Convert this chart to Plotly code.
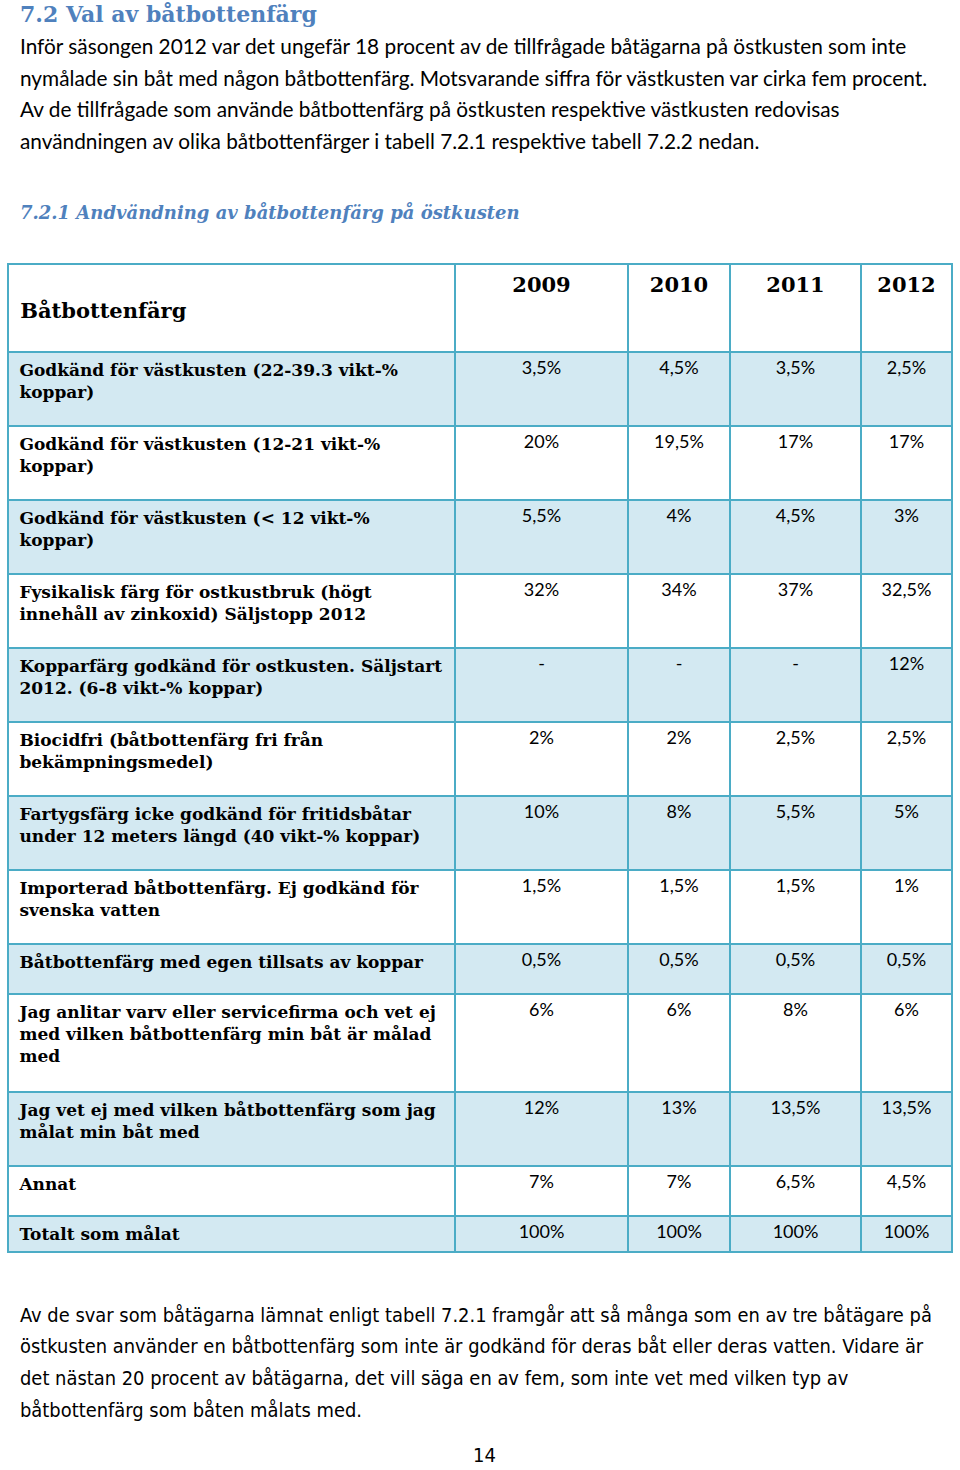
import plotly.graph_objects as go

W, H = 960, 1470

# ---------------- data ----------------
title = "7.2 Val av båtbottenfärg"
intro_lines = [
    "Inför säsongen 2012 var det ungefär 18 procent av de tillfrågade båtägarna på östkusten som inte",
    "nymålade sin båt med någon båtbottenfärg. Motsvarande siffra för västkusten var cirka fem procent.",
    "Av de tillfrågade som använde båtbottenfärg på östkusten respektive västkusten redovisas",
    "användningen av olika båtbottenfärger i tabell 7.2.1 respektive tabell 7.2.2 nedan.",
]
subtitle = "7.2.1 Andvändning av båtbottenfärg på östkusten"
header_label = "Båtbottenfärg"
years = ["2009", "2010", "2011", "2012"]
categories = [
    ["Godkänd för västkusten (22-39.3 vikt-%", "koppar)"],
    ["Godkänd för västkusten (12-21 vikt-%", "koppar)"],
    ["Godkänd för västkusten (< 12 vikt-%", "koppar)"],
    ["Fysikalisk färg för ostkustbruk (högt", "innehåll av zinkoxid) Säljstopp 2012"],
    ["Kopparfärg godkänd för ostkusten. Säljstart", "2012. (6-8 vikt-% koppar)"],
    ["Biocidfri (båtbottenfärg fri från", "bekämpningsmedel)"],
    ["Fartygsfärg icke godkänd för fritidsbåtar", "under 12 meters längd (40 vikt-% koppar)"],
    ["Importerad båtbottenfärg. Ej godkänd för", "svenska vatten"],
    ["Båtbottenfärg med egen tillsats av koppar"],
    ["Jag anlitar varv eller servicefirma och vet ej", "med vilken båtbottenfärg min båt är målad", "med"],
    ["Jag vet ej med vilken båtbottenfärg som jag", "målat min båt med"],
    ["Annat"],
    ["Totalt som målat"],
]
v2009 = ["3,5%", "20%", "5,5%", "32%", "-", "2%", "10%", "1,5%", "0,5%", "6%", "12%", "7%", "100%"]
v2010 = ["4,5%", "19,5%", "4%", "34%", "-", "2%", "8%", "1,5%", "0,5%", "6%", "13%", "7%", "100%"]
v2011 = ["3,5%", "17%", "4,5%", "37%", "-", "2,5%", "5,5%", "1,5%", "0,5%", "8%", "13,5%", "6,5%", "100%"]
v2012 = ["2,5%", "17%", "3%", "32,5%", "12%", "2,5%", "5%", "1%", "0,5%", "6%", "13,5%", "4,5%", "100%"]
outro_lines = [
    "Av de svar som båtägarna lämnat enligt tabell 7.2.1 framgår att så många som en av tre båtägare på",
    "östkusten använder en båtbottenfärg som inte är godkänd för deras båt eller deras vatten. Vidare är",
    "det nästan 20 procent av båtägarna, det vill säga en av fem, som inte vet med vilken typ av",
    "båtbottenfärg som båten målats med.",
]
page_number = "14"

# ---------------- layout / style ----------------
BLUE_TXT = "#4F81BD"
BORDER = "#4BACC6"
FILL_A = "#D3E9F2"
FILL_B = "#FFFFFF"
SERIF = "DejaVu Serif"
SANS = "Lato"
NARROW = "Liberation Sans Narrow, DejaVu Sans Condensed, sans-serif"

TABLE_LEFT, TABLE_RIGHT = 8, 952
TABLE_TOP = 264
HEADER_H = 88
COLW = [447, 173, 102, 131, 91]
# row heights grow with number of text lines, last row is compact
ROW_H = [26 + 24 * len(c) for c in categories]
ROW_H[-1] = 30
INDENT = "\u2009"


def py(px):
    return 1 - px / H


fig = go.Figure()

label_cells = ["<br>".join(INDENT + "<b>%s</b>" % s for s in c) for c in categories]
cols_all = [label_cells, v2009, v2010, v2011, v2012]
row_fill = [FILL_A if i % 2 == 0 else FILL_B for i in range(len(categories))]

# group consecutive rows of equal height into one table trace each
groups = []
start = 0
for i in range(1, len(categories) + 1):
    if i == len(categories) or ROW_H[i] != ROW_H[start]:
        groups.append((start, i))
        start = i

y_cursor = TABLE_TOP
for gi, (a, b) in enumerate(groups):
    first = gi == 0
    if first:
        header = dict(
            values=["\u00a0<br>" + INDENT + "<b>%s</b>" % header_label] + ["<b>%s</b>" % y for y in years],
            height=HEADER_H,
            align=["left", "center", "center", "center", "center"],
            fill=dict(color="white"),
            line=dict(color=BORDER, width=2),
            font=dict(family=SERIF, size=21, color="black"),
        )
        top = y_cursor
        y_cursor += HEADER_H
    else:
        header = dict(
            values=["", "", "", "", ""],
            height=0,
            fill=dict(color="rgba(0,0,0,0)"),
            line=dict(color="rgba(0,0,0,0)", width=0),
        )
        top = y_cursor
    fig.add_trace(go.Table(
        domain=dict(x=[TABLE_LEFT / W, TABLE_RIGHT / W], y=[0, py(top)]),
        columnwidth=COLW,
        header=header,
        cells=dict(
            values=[col[a:b] for col in cols_all],
            height=ROW_H[a],
            align=["left", "center", "center", "center", "center"],
            fill=dict(color=[row_fill[a:b]] * 5),
            line=dict(color=BORDER, width=2),
            font=dict(family=[SERIF, SANS, SANS, SANS, SANS],
                      size=[17, 18, 18, 18, 18], color="black"),
        ),
    ))
    y_cursor += sum(ROW_H[a:b])

annotations = []
annotations.append(dict(text="<b>%s</b>" % title, x=18 / W, y=py(14), xanchor="left", yanchor="middle",
                        font=dict(family=SERIF, size=22, color=BLUE_TXT)))
for i, line in enumerate(intro_lines):
    annotations.append(dict(text=line, x=18 / W, y=py(46 + i * 31.4), xanchor="left", yanchor="middle",
                            font=dict(family=SANS, size=20.8, color="black")))
annotations.append(dict(text="<b><i>%s</i></b>" % subtitle, x=18 / W, y=py(212), xanchor="left",
                        yanchor="middle", font=dict(family=SERIF, size=18, color=BLUE_TXT)))
for i, line in enumerate(outro_lines):
    annotations.append(dict(text=line, x=18 / W, y=py(1315 + i * 31.7), xanchor="left", yanchor="middle",
                            font=dict(family=NARROW, size=19.9, color="black")))
annotations.append(dict(text=page_number, x=484 / W, y=py(1469), xanchor="center", yanchor="bottom",
                        font=dict(family=NARROW, size=20, color="black")))
for an in annotations:
    an.update(xref="paper", yref="paper", showarrow=False)

fig.update_layout(
    width=W, height=H,
    margin=dict(l=0, r=0, t=0, b=0),
    paper_bgcolor="white", plot_bgcolor="white",
    annotations=annotations,
)

fig.write_html("out.html", config={"displayModeBar": False},
               post_script="document.body.style.margin='0px';")
